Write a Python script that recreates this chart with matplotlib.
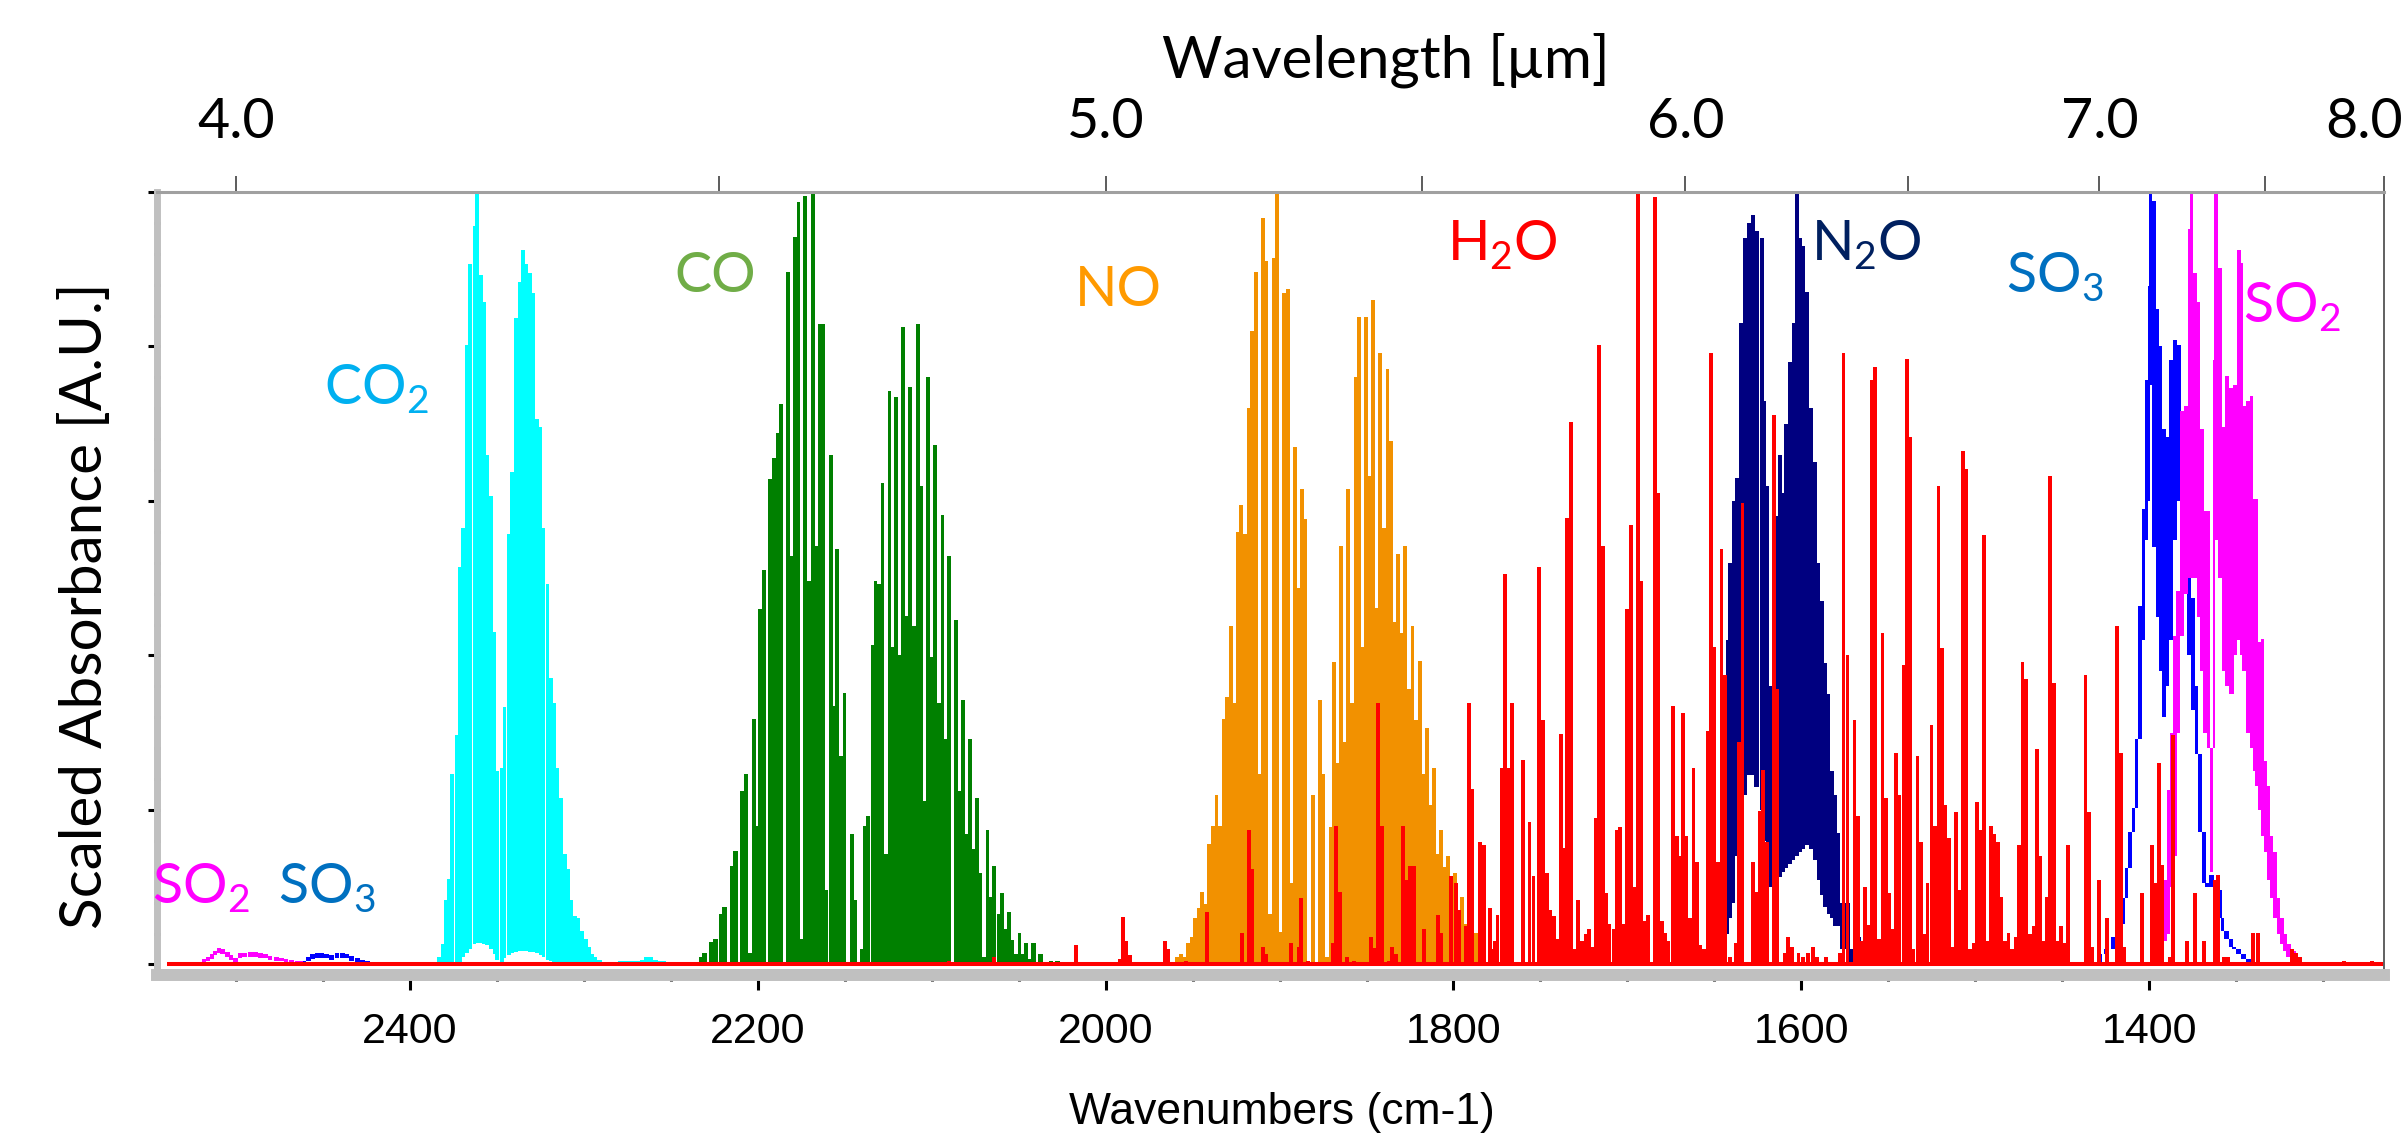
import numpy as np
import matplotlib.pyplot as plt
import matplotlib.transforms as mtransforms
from matplotlib.ticker import MultipleLocator, FixedLocator

plt.rcParams['font.family'] = ['Lato', 'DejaVu Sans']

# spectra: wavenumber (cm-1) and scaled absorbance
co2_nu = [2385.7, 2383.3, 2381.4, 2379.5, 2377.5, 2375.6, 2373.2, 2371.3, 2369.3, 2367.1,
          2365.5, 2363.0, 2361.6, 2359.2, 2357.5, 2355.6, 2353.4, 2351.4, 2349.8, 2347.3,
          2345.7, 2343.2, 2341.3, 2339.1, 2336.9, 2335.0, 2333.1, 2331.2, 2329.0, 2327.1,
          2324.9, 2323.2, 2321.0, 2319.1, 2317.1, 2315.2, 2313.3, 2311.1, 2309.2, 2307.2,
          2305.1, 2303.4, 2301.2, 2299.0, 2297.1, 2295.2, 2293.5, 2291.0, 2288.6]
co2_hi = [0.003, 0.01, 0.027, 0.083, 0.111, 0.247, 0.297, 0.514, 0.565, 0.802,
          0.907, 0.956, 1.0, 0.893, 0.857, 0.66, 0.606, 0.43, 0.25, 0.254,
          0.333, 0.557, 0.638, 0.837, 0.884, 0.925, 0.907, 0.895, 0.869, 0.706,
          0.696, 0.565, 0.492, 0.371, 0.338, 0.255, 0.215, 0.143, 0.123, 0.083,
          0.063, 0.060, 0.043, 0.033, 0.023, 0.013, 0.01, 0.006, 0.003]
co2_lo = [0, 0, 0, 0, 0, 0, 0, 0.003, 0.01, 0.015,
          0.02, 0.027, 0.028, 0.028, 0.027, 0.025, 0.02, 0.013, 0.006, 0.003,
          0.008, 0.012, 0.015, 0.016, 0.017, 0.017, 0.017, 0.016, 0.016, 0.015,
          0.012, 0.01, 0.006, 0.004, 0, 0, 0, 0, 0, 0,
          0, 0, 0, 0, 0, 0, 0, 0, 0]
co2w_nu = [2279.0, 2276.5, 2274.0, 2271.5, 2269.0, 2266.5, 2264.0, 2261.5, 2259.0, 2256.5, 2254.0]
co2w_hi = [0.005, 0.005, 0.005, 0.005, 0.005, 0.006, 0.01, 0.01, 0.006, 0.005, 0.005]
co2w_lo = [0.001, 0.001, 0.001, 0.001, 0.001, 0.001, 0.001, 0.001, 0.001, 0.001, 0.001]

co_nu = [2234.5, 2232.6, 2230.7, 2226.6, 2224.6, 2221.0, 2219.1, 2214.7, 2212.8, 2208.9,
         2206.8, 2204.8, 2202.4, 2200.5, 2198.6, 2196.6, 2194.7, 2192.8, 2190.6, 2188.6,
         2186.7, 2184.8, 2182.6, 2180.7, 2178.5, 2176.6, 2174.6, 2172.7, 2170.3, 2168.4,
         2166.4, 2164.3, 2162.6, 2160.6, 2158.2, 2156.3, 2154.3, 2152.4, 2150.2, 2148.6,
         2146.1, 2144.2, 2142.5, 2140.1, 2138.4, 2136.5, 2134.1, 2132.4, 2130.2, 2128.3,
         2126.3, 2124.4, 2122.5, 2120.5, 2118.6, 2116.4, 2114.7, 2112.3, 2110.4, 2108.0,
         2106.0, 2104.1, 2102.2, 2100.2, 2098.3, 2095.9, 2093.9, 2092.0, 2089.9, 2087.9,
         2086.0, 2084.1, 2081.9, 2080.0, 2077.8, 2075.8, 2073.9, 2072.0, 2070.0, 2067.9,
         2065.9, 2064.0, 2061.6, 2059.7, 2057.7, 2055.6, 2053.6, 2051.7, 2049.5, 2047.8,
         2045.7, 2043.5, 2041.3, 2037.4, 2031.4, 2027.8]
co_h = [0.003, 0.010, 0.015, 0.029, 0.033, 0.065, 0.074, 0.128, 0.147, 0.224,
        0.247, 0.015, 0.318, 0.179, 0.46, 0.511, 0.003, 0.629, 0.656, 0.688,
        0.725, 0.003, 0.897, 0.529, 0.942, 0.987, 0.033, 0.995, 0.497, 0.998,
        0.542, 0.829, 0.829, 0.096, 0.66, 0.335, 0.538, 0.27, 0.351, 0.003,
        0.169, 0.083, 0.003, 0.02, 0.179, 0.192, 0.414, 0.496, 0.492, 0.623,
        0.143, 0.743, 0.411, 0.734, 0.401, 0.825, 0.451, 0.747, 0.438, 0.829,
        0.619, 0.211, 0.761, 0.398, 0.673, 0.338, 0.582, 0.292, 0.529, 0.003,
        0.446, 0.225, 0.343, 0.169, 0.292, 0.149, 0.216, 0.119, 0.01, 0.174,
        0.088, 0.127, 0.065, 0.093, 0.046, 0.068, 0.032, 0.013, 0.041, 0.013,
        0.028, 0.007, 0.028, 0.013, 0.005, 0.005]

# NO sampled on an even 2.05 cm-1 grid starting at 1960.9
no_start, no_step = 1960.9, 2.05
no_h = [0.3, 1, 1.3, 1, 2.8, 3.6, 6, 7.3, 9.4, 7.8,
        15.6, 17.9, 21.9, 17.9, 31.8, 34.6, 43.8, 33.8, 56, 59.5,
        55.7, 72, 82, 89.7, 24.7, 96.6, 91.1, 6.5, 91.5, 99.8,
        4.2, 86.9, 87.4, 10.6, 67, 48.7, 61.5, 57.7, 0.3, 21.9,
        0.3, 34.3, 24.7, 1, 17.8, 39.1, 26.1, 54.2, 28.8, 61.5,
        33.8, 76.1, 83.8, 41.1, 83.8, 63.3, 86, 46.1, 79.2, 56.5,
        77.1, 67.8, 44.3, 53.2, 42.9, 54.2, 35.6, 43.8, 31.6, 39.3,
        24.7, 30.6, 20.7, 25.5, 14.3, 17.4, 12.6, 14.1, 11.4, 11.9,
        7, 8.8, 5.3, 4, 4.1, 4.1]

n2o_nu = [1642.5, 1641.0, 1639.0, 1637.1, 1634.4, 1632.3, 1630.2, 1627.9, 1625.6, 1622.7,
          1621.2, 1619.5, 1618.0, 1616.0, 1614.1, 1612.2, 1610.3, 1608.7, 1606.4, 1604.5,
          1602.6, 1600.7, 1598.8, 1596.9, 1594.4, 1592.1, 1590.1, 1588.2, 1586.3, 1584.4,
          1582.5, 1580.5, 1578.6, 1576.6, 1574.7, 1572.8, 1570.9, 1569.0, 1567.0, 1565.0,
          1563.0, 1561.0]
n2o_hi = [0.42, 0.52, 0.60, 0.63, 0.83, 0.94, 0.96, 0.97, 0.95, 0.94,
          0.73, 0.62, 0.36, 0.55, 0.58, 0.66, 0.61, 0.70, 0.78, 0.83,
          1.0, 0.94, 0.93, 0.87, 0.72, 0.65, 0.52, 0.47, 0.39, 0.35,
          0.25, 0.22, 0.17, 0.08, 0.08, 0.08, 0.02, 0.02, 0.035, 0.01,
          0.01, 0.01]
n2o_lo = [0.04, 0.06, 0.08, 0.14, 0.20, 0.22, 0.245, 0.245, 0.23, 0.20,
          0.16, 0.11, 0.10, 0.105, 0.11, 0.113, 0.12, 0.125, 0.13, 0.135,
          0.14, 0.145, 0.15, 0.155, 0.15, 0.135, 0.11, 0.09, 0.075, 0.065,
          0.06, 0.05, 0.05, 0.02, 0.02, 0, 0, 0, 0, 0,
          0, 0]

so3_nu = [1428.2, 1424.4, 1420.5, 1416.7, 1414.8, 1412.9, 1410.9, 1409.0, 1407.1, 1405.2,
          1403.3, 1401.4, 1400.2, 1399.1, 1397.1, 1395.2, 1393.3, 1391.4, 1389.5, 1387.6,
          1385.1, 1382.8, 1380.9, 1378.9, 1376.8, 1374.5, 1372.6, 1370.7, 1368.4, 1366.9,
          1364.0, 1361.1, 1359.2, 1357.7, 1355.4, 1353.1, 1351.1, 1348.6, 1345.8, 1342.9,
          1341.0]
so3_hi = [0.013, 0.02, 0.035, 0.053, 0.086, 0.125, 0.172, 0.202, 0.292, 0.464,
          0.59, 0.756, 0.878, 1.0, 0.988, 0.849, 0.8, 0.693, 0.683, 0.782,
          0.809, 0.802, 0.7, 0.62, 0.5, 0.475, 0.361, 0.272, 0.172, 0.106,
          0.116, 0.1, 0.096, 0.06, 0.043, 0.033, 0.023, 0.02, 0.013, 0.007,
          0.003]
so3_lo = [0, 0.013, 0.02, 0.035, 0.053, 0.086, 0.125, 0.172, 0.202, 0.292,
          0.42, 0.55, 0.6, 0.75, 0.54, 0.45, 0.38, 0.32, 0.36, 0.42,
          0.55, 0.6, 0.55, 0.48, 0.4, 0.33, 0.272, 0.172, 0.106, 0.1,
          0.1, 0.096, 0.06, 0.043, 0.033, 0.023, 0.02, 0.013, 0.007, 0.003,
          0]
so3w_nu = [2461.2, 2458.5, 2456.0, 2453.5, 2451.0, 2448.0, 2445.0, 2442.0, 2439.0, 2436.3,
           2433.5, 2430.4, 2427.5, 2424.5]
so3w_hi = [0.005, 0.01, 0.013, 0.015, 0.015, 0.014, 0.012, 0.015, 0.015, 0.014,
           0.011, 0.008, 0.006, 0.005]
so3w_lo = [0, 0.004, 0.007, 0.009, 0.009, 0.008, 0.006, 0.009, 0.009, 0.008,
           0.005, 0.003, 0.001, 0]

so2_nu = [1390.8, 1388.9, 1387.0, 1385.1, 1383.2, 1381.2, 1378.7, 1376.8, 1375.5, 1373.6,
          1371.6, 1369.7, 1367.8, 1365.9, 1364.0, 1362.6, 1361.5, 1359.2, 1356.9, 1355.4,
          1352.5, 1350.6, 1348.1, 1346.7, 1345.4, 1342.9, 1341.0, 1339.6, 1338.1, 1336.6,
          1334.7, 1333.3, 1331.4, 1329.5, 1327.6, 1325.6, 1323.7, 1321.8, 1319.9, 1317.0,
          1314.1, 1311.3]
so2_hi = [0.11, 0.226, 0.3, 0.425, 0.484, 0.716, 0.723, 0.952, 1.0, 0.895,
          0.858, 0.693, 0.587, 0.587, 0.28, 0.782, 1.0, 0.902, 0.696, 0.762,
          0.746, 0.75, 0.925, 0.908, 0.723, 0.73, 0.736, 0.603, 0.603, 0.418,
          0.421, 0.264, 0.231, 0.166, 0.146, 0.086, 0.06, 0.04, 0.027, 0.017,
          0.01, 0.003]
so2_lo = [0.03, 0.04, 0.1, 0.14, 0.3, 0.425, 0.48, 0.5, 0.5, 0.5,
          0.45, 0.38, 0.3, 0.28, 0.12, 0.28, 0.55, 0.5, 0.38, 0.36,
          0.35, 0.4, 0.42, 0.4, 0.38, 0.3, 0.28, 0.25, 0.231, 0.2,
          0.166, 0.146, 0.11, 0.086, 0.06, 0.04, 0.027, 0.017, 0.01, 0.005,
          0, 0]
so2w_nu = [2518.5, 2516.0, 2514.0, 2512.0, 2510.0, 2508.0, 2505.0, 2503.0, 2500.6, 2497.8,
           2495.0, 2492.0, 2489.0, 2486.0, 2483.0, 2480.5, 2477.0, 2474.0, 2471.3, 2468.0,
           2465.0, 2462.7]
so2w_hi = [0.007, 0.01, 0.013, 0.018, 0.021, 0.02, 0.016, 0.012, 0.008, 0.015,
           0.015, 0.016, 0.016, 0.015, 0.013, 0.011, 0.01, 0.009, 0.007, 0.006,
           0.005, 0.004]
so2w_lo = [0.002, 0.004, 0.007, 0.012, 0.015, 0.014, 0.01, 0.006, 0.003, 0.009,
           0.01, 0.01, 0.01, 0.009, 0.008, 0.006, 0.005, 0.004, 0.003, 0.002,
           0.001, 0]

h2o_range = [2540.0, 1264.9]
h2o_nu = [2090.0, 2064.0, 2017.0, 1991.7, 1990.2, 1988.0, 1985.8, 1965.8, 1964.0, 1954.0,
          1941.7, 1921.6, 1917.6, 1915.7, 1909.5, 1907.6, 1893.4, 1889.0, 1887.5, 1883.6,
          1869.3, 1867.4, 1865.4, 1861.2, 1857.4, 1847.2, 1845.1, 1843.2, 1841.3, 1837.1,
          1835.2, 1833.2, 1829.0, 1827.1, 1824.8, 1822.9, 1816.9, 1808.9, 1807.0, 1801.2,
          1798.7, 1796.8, 1793.0, 1791.0, 1789.1, 1784.9, 1782.6, 1779.0, 1774.7, 1772.2,
          1770.3, 1768.2, 1766.3, 1760.2, 1756.3, 1754.0, 1750.6, 1748.3, 1746.4, 1744.4,
          1742.2, 1740.2, 1738.3, 1736.4, 1734.5, 1732.2, 1730.1, 1728.2, 1722.2, 1720.3,
          1718.2, 1716.1, 1714.2, 1712.2, 1710.3, 1708.0, 1706.1, 1704.2, 1702.3, 1700.0,
          1698.1, 1696.1, 1693.8, 1691.9, 1690.0, 1688.1, 1684.1, 1682.2, 1680.2, 1678.3,
          1673.9, 1671.6, 1670.1, 1668.2, 1666.2, 1662.0, 1660.1, 1653.8, 1652.1, 1650.1,
          1647.8, 1645.9, 1644.0, 1640.9, 1637.5, 1635.8, 1633.8, 1627.9, 1625.6, 1623.7,
          1621.8, 1619.9, 1615.6, 1613.7, 1609.3, 1607.4, 1605.5, 1601.6, 1598.8, 1595.9,
          1593.4, 1591.1, 1577.6, 1575.7, 1573.4, 1569.4, 1567.3, 1563.5, 1561.4, 1559.4,
          1557.5, 1555.4, 1553.3, 1551.2, 1549.3, 1547.4, 1545.4, 1543.5, 1541.2, 1539.3,
          1537.4, 1535.5, 1533.2, 1531.3, 1527.4, 1525.1, 1523.2, 1521.1, 1519.0, 1517.1,
          1515.2, 1513.2, 1511.1, 1509.0, 1507.1, 1505.2, 1501.0, 1499.1, 1497.1, 1495.0,
          1491.0, 1489.1, 1487.0, 1484.9, 1480.8, 1476.6, 1474.7, 1472.8, 1470.7, 1464.5,
          1462.6, 1458.8, 1456.9, 1454.6, 1450.8, 1448.6, 1446.7, 1436.5, 1434.6, 1433.0,
          1428.6, 1424.0, 1418.2, 1416.3, 1414.4, 1404.2, 1398.5, 1396.6, 1394.3, 1392.4,
          1388.0, 1386.4, 1378.4, 1373.6, 1368.4, 1362.1, 1360.2, 1356.9, 1354.4, 1340.0,
          1337.2, 1317.9, 1315.5, 1313.2, 1287.7, 1271.6]
h2o_h = [0.005, 0.01, 0.025, 0.007, 0.062, 0.03, 0.012, 0.031, 0.02, 0.005,
         0.068, 0.041, 0.174, 0.123, 0.023, 0.013, 0.028, 0.023, 0.086, 0.005,
         0.028, 0.179, 0.094, 0.01, 0.005, 0.036, 0.021, 0.338, 0.179, 0.005,
         0.023, 0.013, 0.179, 0.109, 0.127, 0.127, 0.046, 0.064, 0.041, 0.114,
         0.105, 0.07, 0.05, 0.338, 0.227, 0.159, 0.155, 0.073, 0.064, 0.255,
         0.505, 0.255, 0.338, 0.265, 0.184, 0.114, 0.514, 0.316, 0.119, 0.07,
         0.063, 0.033, 0.298, 0.151, 0.578, 0.702, 0.02, 0.083, 0.046, 0.023,
         0.189, 0.802, 0.542, 0.093, 0.052, 0.046, 0.174, 0.178, 0.052, 0.46,
         0.569, 0.1, 1.0, 0.496, 0.056, 0.064, 0.993, 0.61, 0.056, 0.041,
         0.334, 0.166, 0.141, 0.325, 0.166, 0.255, 0.133, 0.302, 0.792, 0.411,
         0.133, 0.538, 0.375, 0.01, 0.028, 0.288, 0.597, 0.133, 0.094, 0.199,
         0.252, 0.159, 0.711, 0.356, 0.015, 0.036, 0.023, 0.015, 0.01, 0.015,
         0.023, 0.01, 0.015, 0.792, 0.401, 0.316, 0.192, 0.1, 0.051, 0.756,
         0.774, 0.033, 0.429, 0.216, 0.093, 0.046, 0.274, 0.219, 0.388, 0.784,
         0.683, 0.02, 0.27, 0.159, 0.105, 0.31, 0.179, 0.619, 0.41, 0.207,
         0.164, 0.023, 0.197, 0.096, 0.665, 0.641, 0.028, 0.21, 0.174, 0.556,
         0.179, 0.169, 0.159, 0.088, 0.041, 0.036, 0.155, 0.391, 0.37, 0.279,
         0.141, 0.088, 0.632, 0.365, 0.05, 0.028, 0.155, 0.375, 0.197, 0.023,
         0.109, 0.06, 0.438, 0.274, 0.023, 0.093, 0.155, 0.105, 0.261, 0.129,
         0.01, 0.297, 0.031, 0.092, 0.031, 0.109, 0.116, 0.01, 0.01, 0.041,
         0.041, 0.02, 0.015, 0.01, 0.005, 0.005]
# weak water lines filling the floor between the strong ones
h2o_weak_nu = [1777.0, 1776.0, 1726.0, 1724.0, 1676.5, 1664.0, 1658.0, 1656.0,
               1586.0, 1565.5, 1529.5, 1503.0, 1493.0, 1482.8, 1478.7, 1468.6,
               1466.5, 1460.7, 1452.7]
h2o_weak_h = [0.02, 0.03, 0.03, 0.04, 0.03, 0.06, 0.025, 0.02,
              0.01, 0.03, 0.04, 0.02, 0.03, 0.03, 0.02, 0.04,
              0.05, 0.03, 0.03]

wl_major = ['4.0', '5.0', '6.0', '7.0', '8.0']
wl_minor = [4.5, 5.5, 6.5, 7.5]

W, H = 2406, 1136
fig = plt.figure(figsize=(W / 100, H / 100), dpi=100)
ax = fig.add_axes([156.5 / W, 1 - 975 / H, (2384 - 156.5) / W, (975 - 192) / H])
ax.set_xlim(2545.8, 1264.9)
ax.set_ylim(-0.0136, 1.0)


def band(nu, hi, lo, color, z):
    nu = np.asarray(nu, float)
    hi = np.asarray(hi, float)
    lo = np.zeros_like(hi) if lo is None else np.asarray(lo, float)
    w = np.clip(np.abs(np.gradient(nu)), 0.5, 2.6) * 1.08
    ax.bar(nu, hi - lo, width=w, bottom=lo, color=color, linewidth=0, zorder=z)


band(co2_nu, co2_hi, co2_lo, '#00ffff', 1.0)
band(co2w_nu, co2w_hi, co2w_lo, '#00ffff', 1.0)
band(co_nu, co_h, None, '#008000', 1.1)
no_nu = no_start - no_step * np.arange(len(no_h))
band(no_nu, np.array(no_h) / 100, None, '#f29100', 1.2)
band(n2o_nu, n2o_hi, n2o_lo, '#000080', 1.3)
band(so3_nu, so3_hi, so3_lo, '#0000ff', 1.4)
band(so3w_nu, so3w_hi, so3w_lo, '#0000ff', 1.4)
band(so2_nu, so2_hi, so2_lo, '#ff00ff', 1.5)
band(so2w_nu, so2w_hi, so2w_lo, '#ff00ff', 1.5)
ax.bar(h2o_nu, h2o_h, width=2.2, color='#ff0000', linewidth=0, zorder=2.0)
ax.bar(h2o_weak_nu, h2o_weak_h, width=2.2, color='#ff0000', linewidth=0, zorder=2.0)
ax.hlines(0, h2o_range[0], h2o_range[1], color='#ff0000', lw=2.9, zorder=2.1)

# axes frame in the look of the spectrometer software
ax.spines['left'].set_color('#c0c0c0')
ax.spines['left'].set_linewidth(5.0)
ax.spines['bottom'].set_color('#c0c0c0')
ax.spines['bottom'].set_linewidth(8.6)
ax.spines['right'].set_color('#606060')
ax.spines['right'].set_linewidth(1.4)
ax.spines['top'].set_visible(False)

ax.xaxis.set_major_locator(MultipleLocator(200))
ax.xaxis.set_minor_locator(MultipleLocator(50))
ax.xaxis.remove_overlapping_locs = False
ax.yaxis.set_major_locator(MultipleLocator(0.2))
ax.yaxis.set_minor_locator(MultipleLocator(0.04))
ax.yaxis.remove_overlapping_locs = False
ax.tick_params(axis='x', which='major', direction='out', length=10.8, width=2.2,
               color='k', pad=15.8, labelsize=31, labelfontfamily='Liberation Sans')
ax.tick_params(axis='x', which='minor', direction='inout', length=8.6, width=2.2, color='k')
ax.tick_params(axis='y', which='major', direction='out', length=6.8, width=2.2, color='k',
               labelleft=False)
ax.tick_params(axis='y', which='minor', direction='inout', length=5.0, width=2.2, color='k')
ax.tick_params(top=False, right=False)

ax2 = ax.twiny()
ax2.set_xlim(ax.get_xlim())
top_pos = [1e4 / float(s) for s in wl_major[:-1]] + [ax.get_xlim()[1]]
ax2.set_xticks(top_pos, labels=wl_major)
ax2.xaxis.set_minor_locator(FixedLocator([1e4 / l for l in wl_minor]))
ax2.tick_params(axis='x', which='both', direction='out', length=11.5, width=1.1,
                color='#303030', pad=20, labelsize=40, labelfontfamily='Lato')
for s in ['left', 'right', 'bottom']:
    ax2.spines[s].set_visible(False)
ax2.spines['top'].set_color('#a0a0a0')
ax2.spines['top'].set_linewidth(2.2)
# the last wavelength label sits against the right edge, nudge it inside
last = ax2.xaxis.get_major_ticks()[-1].label2
last.set_transform(last.get_transform() +
                   mtransforms.ScaledTranslation(-0.2, 0, fig.dpi_scale_trans))

fig.text(1386 / W, 1 - 77 / H, 'Wavelength [µm]', fontsize=42, ha='center', va='baseline')
fig.text(86 / W, 1 - 606 / H, 'Scaled Absorbance [A.U.]', fontsize=42, rotation=90,
         ha='center', va='center')
fig.text(1282 / W, 1 - 1124 / H, 'Wavenumbers (cm-1)', fontsize=32,
         family=['Liberation Sans', 'DejaVu Sans'], ha='center', va='baseline')

labels = [
    (324, 404, 'CO$_\\mathregular{2}$', '#00b0f0'),
    (674, 292, 'CO', '#70ad47'),
    (1075, 306, 'NO', '#ff9a00'),
    (1447, 260, 'H$_\\mathregular{2}$O', '#ff0000'),
    (1811, 260, 'N$_\\mathregular{2}$O', '#002060'),
    (2006, 292, 'SO$_\\mathregular{3}$', '#0070c0'),
    (2243, 322, 'SO$_\\mathregular{2}$', '#ff00ff'),
    (152, 903, 'SO$_\\mathregular{2}$', '#ff00ff'),
    (278, 903, 'SO$_\\mathregular{3}$', '#0070c0'),
]
for px, py, s, c in labels:
    fig.text(px / W, 1 - py / H, s, color=c, fontsize=40, ha='left', va='baseline')

fig.savefig('out.png', dpi=100, facecolor='white')
